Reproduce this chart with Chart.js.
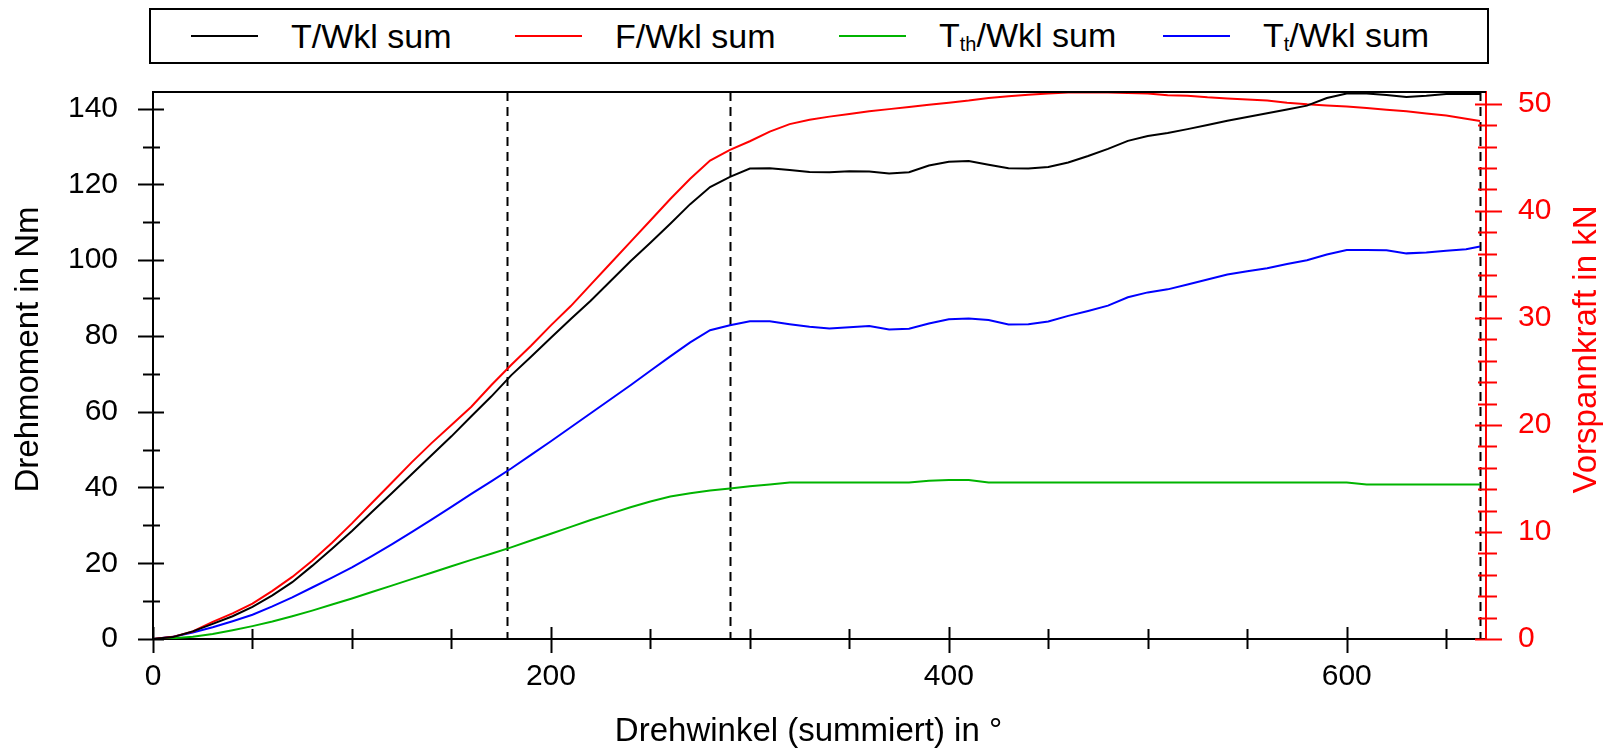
<!DOCTYPE html>
<html lang="de">
<head>
<meta charset="utf-8">
<title>Drehmoment und Vorspannkraft über Drehwinkel</title>
<script src="https://cdn.jsdelivr.net/npm/chart.js@4.4.1/dist/chart.umd.min.js"></script>
<style>
    body { margin: 0; background: #fff; }
    #wrap { position: relative; width: 1610px; height: 752px; }
    #legende {
        position: absolute; left: 149px; top: 8px;
        width: 1340px; height: 56px; box-sizing: border-box;
        border: 2px solid #000; background: #fff;
        display: flex; align-items: center; padding-left: 40px;
        font-family: "Liberation Sans", Arial, sans-serif; font-size: 34px; color: #000;
    }
    .eintrag { width: 324px; display: flex; align-items: center; }
    .linie { width: 67px; height: 0; border-top: 2px solid; }
    .name { margin-left: 33px; white-space: nowrap; }
    .name sub { font-size: 20px; vertical-align: -4px; }
</style>
</head>
<body>
<div id="wrap">
    <canvas id="drehChart" width="1610" height="752"></canvas>
    <div id="legende"></div>
</div>
<script>
// Drehwinkel (summiert) in Grad
const winkel = [0, 10, 20, 30, 40, 50, 60, 70, 80, 90, 100, 110, 120, 130, 140, 150, 160, 170, 180, 190,
    200, 210, 220, 230, 240, 250, 260, 270, 280, 290, 300, 310, 320, 330, 340, 350, 360, 370, 380, 390,
    400, 410, 420, 430, 440, 450, 460, 470, 480, 490, 500, 510, 520, 530, 540, 550, 560, 570, 580, 590,
    600, 610, 620, 630, 640, 650, 660, 667];

// T/Wkl sum in Nm
const tSumme = [0, 0.5, 2, 4, 6, 8.5, 11.5, 15, 19.3, 23.8, 28.5, 33.5, 38.5, 43.5, 48.5, 53.5, 58.8, 64, 69.6, 74.5,
    79.5, 84.5, 89.3, 94.5, 99.7, 104.6, 109.6, 114.8, 119.3, 122, 124.2, 124.3, 123.8, 123.3, 123.2, 123.5, 123.4, 122.9, 123.2, 125,
    126, 126.2, 125.2, 124.3, 124.2, 124.6, 125.8, 127.5, 129.4, 131.5, 132.8, 133.6, 134.6, 135.7, 136.8, 137.8, 138.8, 139.8, 140.8, 142.8,
    144, 144, 143.6, 143.1, 143.4, 143.9, 143.9, 143.9];

// F/Wkl sum in kN (rechte Achse)
const fSumme = [0, 0.2, 0.7, 1.6, 2.4, 3.3, 4.5, 5.8, 7.3, 9, 10.8, 12.7, 14.6, 16.5, 18.3, 20, 21.7, 23.7, 25.6, 27.4,
    29.3, 31.1, 33.1, 35.1, 37.1, 39.1, 41.1, 43, 44.7, 45.7, 46.5, 47.4, 48.1, 48.5, 48.8, 49.05, 49.3, 49.5, 49.7, 49.9,
    50.1, 50.3, 50.55, 50.7, 50.85, 50.95, 51.05, 51.05, 51.05, 51, 50.95, 50.8, 50.75, 50.6, 50.5, 50.4, 50.3, 50.1, 49.95, 49.85,
    49.75, 49.6, 49.45, 49.3, 49.1, 48.9, 48.6, 48.4];

// Tth/Wkl sum in Nm
const tthSumme = [0, 0.2, 0.6, 1.3, 2.3, 3.4, 4.6, 6, 7.5, 9.1, 10.7, 12.4, 14.1, 15.8, 17.5, 19.2, 20.9, 22.5, 24.2, 26,
    27.8, 29.6, 31.4, 33.1, 34.8, 36.3, 37.6, 38.5, 39.2, 39.7, 40.3, 40.8, 41.3, 41.3, 41.3, 41.3, 41.3, 41.3, 41.3, 41.8,
    42, 42, 41.3, 41.3, 41.3, 41.3, 41.3, 41.3, 41.3, 41.3, 41.3, 41.3, 41.3, 41.3, 41.3, 41.3, 41.3, 41.3, 41.3, 41.3,
    41.3, 40.8, 40.8, 40.8, 40.8, 40.8, 40.8, 40.8];

// Tt/Wkl sum in Nm
const ttSumme = [0, 0.6, 1.7, 3.1, 4.7, 6.4, 8.6, 11, 13.6, 16.2, 18.9, 21.9, 25, 28.2, 31.5, 34.9, 38.3, 41.6, 45, 48.6,
    52.2, 55.9, 59.6, 63.3, 67, 70.8, 74.6, 78.3, 81.5, 82.8, 83.9, 83.9, 83.1, 82.4, 82, 82.3, 82.6, 81.7, 81.9, 83.3,
    84.4, 84.6, 84.2, 83, 83.1, 83.8, 85.3, 86.6, 88, 90.2, 91.5, 92.3, 93.6, 94.9, 96.2, 97.1, 97.9, 99, 100, 101.5,
    102.7, 102.7, 102.6, 101.8, 102, 102.5, 102.9, 103.6];

// senkrechte Markierungen (Drehwinkel)
const markierungen = [178, 290, 667];

const legendenNamen = ['T/Wkl sum', 'F/Wkl sum', 'T<sub>th</sub>/Wkl sum', 'T<sub>t</sub>/Wkl sum'];
const farben = ['#000000', '#ff0000', '#00b400', '#0000ff'];

const familie = '"Liberation Sans", Arial, sans-serif';
const tickSchrift = { family: familie, size: 30 };
const titelSchrift = '33px ' + familie;

function punkte(werte) {
    return winkel.map((w, i) => ({ x: w, y: werte[i] }));
}

function titel(ctx, text, farbe, x, y, drehen) {
    ctx.save();
    ctx.fillStyle = farbe;
    ctx.font = titelSchrift;
    ctx.textAlign = 'center';
    ctx.textBaseline = 'middle';
    ctx.translate(x, y);
    if (drehen) ctx.rotate(-Math.PI / 2);
    ctx.fillText(text, 0, 0);
    ctx.restore();
}

// Rahmen, Achsenstriche (Haupt- und Zwischenstriche) und Achsentitel
const achsenStriche = {
    id: 'achsenStriche',
    afterDraw(chart) {
        const { ctx, chartArea } = chart;
        const { x, y, y2 } = chart.scales;
        ctx.save();
        ctx.lineWidth = 2;

        // Rahmen oben
        ctx.strokeStyle = '#000';
        ctx.beginPath();
        ctx.moveTo(chartArea.left, chartArea.top);
        ctx.lineTo(chartArea.right, chartArea.top);
        ctx.stroke();

        x.ticks.forEach(t => {
            if (t.value % 50 !== 0) return;
            const px = Math.round(x.getPixelForValue(t.value)) + 0.5;
            const haupt = t.value % 200 === 0;
            ctx.beginPath();
            ctx.moveTo(px, chartArea.bottom - (haupt ? 12 : 10));
            ctx.lineTo(px, chartArea.bottom + (haupt ? 14 : 10));
            ctx.stroke();
        });

        y.ticks.forEach(t => {
            const py = Math.round(y.getPixelForValue(t.value)) + 0.5;
            const haupt = t.value % 20 === 0;
            ctx.beginPath();
            ctx.moveTo(chartArea.left - (haupt ? 15 : 10), py);
            ctx.lineTo(chartArea.left + (haupt ? 11 : 7), py);
            ctx.stroke();
        });

        ctx.strokeStyle = '#ff0000';
        y2.ticks.forEach(t => {
            const py = Math.round(y2.getPixelForValue(t.value)) + 0.5;
            const haupt = t.value % 10 === 0;
            ctx.beginPath();
            ctx.moveTo(chartArea.right - (haupt ? 11 : 8), py);
            ctx.lineTo(chartArea.right + (haupt ? 16 : 11), py);
            ctx.stroke();
        });
        ctx.restore();

        const mitteY = (chartArea.top + chartArea.bottom) / 2 - 16;
        titel(ctx, 'Drehmoment in Nm', '#000', 29, mitteY, true);
        titel(ctx, 'Vorspannkraft in kN', '#ff0000', chart.width - 23, mitteY, true);
        titel(ctx, 'Drehwinkel (summiert) in °', '#000', (chartArea.left + chartArea.right) / 2 - 11, chart.height - 20, false);
    }
};

// gestrichelte senkrechte Linien bei den Markierungen
const markierungsLinien = {
    id: 'markierungsLinien',
    beforeDatasetsDraw(chart) {
        const { ctx, chartArea } = chart;
        const x = chart.scales.x;
        ctx.save();
        ctx.strokeStyle = '#000';
        ctx.lineWidth = 2;
        ctx.setLineDash([9, 6]);
        markierungen.forEach(w => {
            const px = Math.round(x.getPixelForValue(w)) + 0.5;
            ctx.beginPath();
            ctx.moveTo(px, chartArea.top);
            ctx.lineTo(px, chartArea.bottom);
            ctx.stroke();
        });
        ctx.restore();
    }
};

const datensaetze = [
    { label: 'T/Wkl sum', data: punkte(tSumme), yAxisID: 'y' },
    { label: 'F/Wkl sum', data: punkte(fSumme), yAxisID: 'y2' },
    { label: 'Tth/Wkl sum', data: punkte(tthSumme), yAxisID: 'y' },
    { label: 'Tt/Wkl sum', data: punkte(ttSumme), yAxisID: 'y' }
].map((d, i) => Object.assign(d, {
    borderColor: farben[i],
    backgroundColor: farben[i],
    borderWidth: 2,
    pointRadius: 0,
    tension: 0,
    fill: false
}));

const chart = new Chart(document.getElementById('drehChart'), {
    type: 'line',
    data: { datasets: datensaetze },
    options: {
        responsive: false,
        animation: false,
        devicePixelRatio: 1,
        layout: { padding: { top: 92, left: 0, right: 0, bottom: 0 } },
        plugins: {
            legend: { display: false },
            tooltip: { enabled: false }
        },
        scales: {
            x: {
                type: 'linear',
                min: 0,
                max: 670,
                grid: { display: false, drawTicks: false },
                border: { display: true, color: '#000', width: 2 },
                ticks: {
                    stepSize: 50,
                    includeBounds: false,
                    maxRotation: 0,
                    autoSkip: false,
                    padding: 20,
                    color: '#000',
                    font: tickSchrift,
                    callback: v => (v % 200 === 0 ? v : '')
                },
                afterFit: s => { s.height = 113; }
            },
            y: {
                position: 'left',
                min: 0,
                max: 144.4,
                grid: { display: false, drawTicks: false },
                border: { display: true, color: '#000', width: 2 },
                ticks: {
                    stepSize: 10,
                    includeBounds: false,
                    autoSkip: false,
                    padding: 35,
                    color: '#000',
                    font: tickSchrift,
                    callback: v => (v % 20 === 0 ? v : '')
                },
                afterFit: s => { s.width = 153; }
            },
            y2: {
                position: 'right',
                min: 0,
                max: 51.1,
                grid: { display: false, drawTicks: false },
                border: { display: true, color: '#ff0000', width: 2 },
                ticks: {
                    stepSize: 2,
                    includeBounds: false,
                    autoSkip: false,
                    padding: 32,
                    color: '#ff0000',
                    font: tickSchrift,
                    callback: v => (v % 10 === 0 ? v : '')
                },
                afterFit: s => { s.width = 124; }
            }
        }
    },
    plugins: [markierungsLinien, achsenStriche]
});

// Legende im Kasten über dem Diagramm
const legende = document.getElementById('legende');
chart.data.datasets.forEach((d, i) => {
    const eintrag = document.createElement('div');
    eintrag.className = 'eintrag';
    eintrag.innerHTML = '<span class="linie" style="border-color:' + d.borderColor + '"></span>' +
        '<span class="name">' + legendenNamen[i] + '</span>';
    legende.appendChild(eintrag);
});
</script>
</body>
</html>
